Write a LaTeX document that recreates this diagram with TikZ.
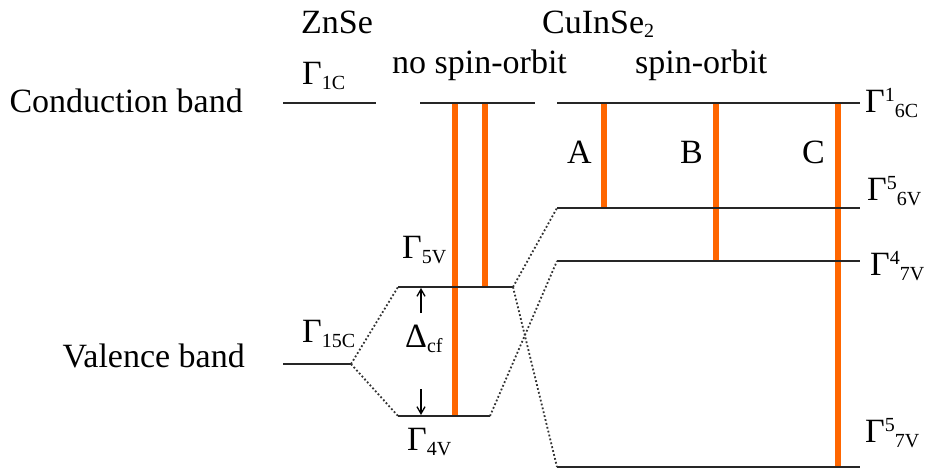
\documentclass[tikz,border=0pt]{standalone}
\usepackage{fontspec}
\setmainfont{Liberation Serif}
\usetikzlibrary{arrows.meta}
\newcommand\subt[1]{\raisebox{-5pt}{\fontsize{20}{20}\selectfont #1}}
\newcommand\supt[1]{\raisebox{11pt}{\fontsize{20}{20}\selectfont #1}}
\begin{document}
\begin{tikzpicture}[x=1pt,y=-1pt,
  txt/.style={inner sep=0pt,anchor=base west,font=\fontsize{34}{38}\selectfont},
  level/.style={line width=2.5pt,black!85},
  trans/.style={line width=6pt,color={rgb,255:red,255;green,102;blue,0}},
  corr/.style={line width=1.8pt,black!80,dash pattern=on 1.8pt off 2.2pt},
  gap/.style={line width=1.3pt,-{Straight Barb[length=7pt,width=8pt]}}]
\useasboundingbox (0,0) rectangle (932,471);
% level end points
\coordinate (z1l) at (283,103); \coordinate (z1r) at (376,103);
\coordinate (z15l) at (283,364); \coordinate (z15r) at (351,364);
\coordinate (nctl) at (420,103); \coordinate (nctr) at (535,103);
\coordinate (n5l) at (398,287); \coordinate (n5r) at (513,287);
\coordinate (n4l) at (398,416); \coordinate (n4r) at (490,416);
\coordinate (s1l) at (557,103); \coordinate (s1r) at (860,103);
\coordinate (s2l) at (557,208); \coordinate (s2r) at (860,208);
\coordinate (s3l) at (557,261); \coordinate (s3r) at (860,261);
\coordinate (s4l) at (557,467); \coordinate (s4r) at (860,467);
% transitions
\coordinate (t1a) at (455,103); \coordinate (t1b) at (455,416);
\coordinate (t2a) at (485,103); \coordinate (t2b) at (485,287);
\coordinate (tAa) at (604,103); \coordinate (tAb) at (604,208);
\coordinate (tBa) at (716,103); \coordinate (tBb) at (716,261);
\coordinate (tCa) at (838,103); \coordinate (tCb) at (838,467);
\draw[trans] (t1a) -- (t1b);
\draw[trans] (t2a) -- (t2b);
\draw[trans] (tAa) -- (tAb);
\draw[trans] (tBa) -- (tBb);
\draw[trans] (tCa) -- (tCb);
% levels
\draw[level] (z1l) -- (z1r);
\draw[level] (z15l) -- (z15r);
\draw[level] (nctl) -- (nctr);
\draw[level] (n5l) -- (n5r);
\draw[level] (n4l) -- (n4r);
\draw[level] (s1l) -- (s1r);
\draw[level] (s2l) -- (s2r);
\draw[level] (s3l) -- (s3r);
\draw[level] (s4l) -- (s4r);
% correlations
\draw[corr] (z15r) -- (n5l);
\draw[corr] (z15r) -- (n4l);
\draw[corr] (n5r) -- (s2l);
\draw[corr] (n5r) -- (s4l);
\draw[corr] (n4r) -- (s3l);
% crystal field arrows
\coordinate (au) at (421,313); \coordinate (aut) at (421,288);
\coordinate (ad) at (421,389); \coordinate (adt) at (421,415);
\draw[gap] (au) -- (aut);
\draw[gap] (ad) -- (adt);
% texts
\node[txt,anchor=base east] (cb) at (243,112) {Conduction band};
\node[txt,anchor=base east] (vb) at (245,367) {Valence band};
\node[txt] (zn) at (301,33) {ZnSe};
\node[txt] (cu) at (542,33) {CuInSe\subt{2}};
\node[txt] (nso) at (392,73) {no spin-orbit};
\node[txt] (so) at (635,73) {spin-orbit};
\node[txt] (g1c) at (302,84) {Γ\subt{1C}};
\node[txt] (g15c) at (302,342) {Γ\subt{15C}};
\node[txt] (g5v) at (402,258) {Γ\subt{5V}};
\node[txt] (g4v) at (407,450) {Γ\subt{4V}};
\node[txt] (dcf) at (405,347) {Δ\subt{cf}};
\node[txt] (la) at (567,163) {A};
\node[txt] (lb) at (680,163) {B};
\node[txt] (lc) at (802,163) {C};
\node[txt] (r1) at (865,112) {Γ\supt{1}\subt{6C}};
\node[txt] (r2) at (867,200) {Γ\supt{5}\subt{6V}};
\node[txt] (r3) at (870,275) {Γ\supt{4}\subt{7V}};
\node[txt] (r4) at (865,442) {Γ\supt{5}\subt{7V}};
\end{tikzpicture}
\end{document}
